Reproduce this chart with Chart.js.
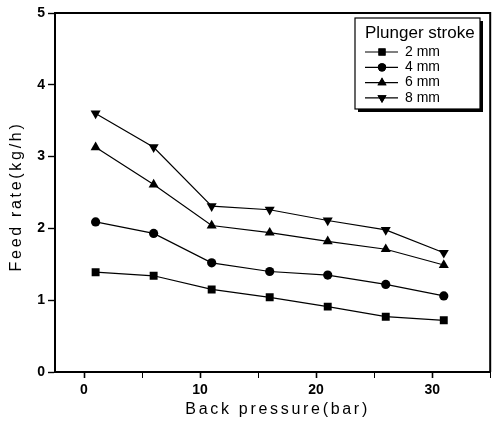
<!DOCTYPE html>
<html>
<head>
<meta charset="utf-8">
<script src="https://cdn.jsdelivr.net/npm/chart.js@4"></script>
<style>
  html, body { margin: 0; padding: 0; background: #fff; }
  .chart-box { width: 496px; height: 426px; }
</style>
</head>
<body>
<div class="chart-box"><canvas id="feedChart"></canvas></div>
<script>
// back pressure (bar) and feed rate (kg/h) for each plunger stroke
const BACK_PRESSURE = [1, 6, 11, 16, 21, 26, 31];
const STROKE_2MM = [1.39, 1.34, 1.15, 1.04, 0.91, 0.77, 0.72];
const STROKE_4MM = [2.09, 1.93, 1.52, 1.40, 1.35, 1.22, 1.06];
const STROKE_6MM = [3.13, 2.61, 2.04, 1.94, 1.82, 1.71, 1.49];
const STROKE_8MM = [3.60, 3.13, 2.31, 2.26, 2.11, 1.98, 1.66];
const SERIES_LABELS = ['2 mm', '4 mm', '6 mm', '8 mm'];
const X_TICKS = [0, 5, 10, 15, 20, 25, 30, 35];
const Y_TICKS = [0, 1, 2, 3, 4, 5];

const LEGEND_TITLE = 'Plunger stroke';
const X_TITLE = 'Back pressure(bar)';
const Y_TITLE = 'Feed rate(kg/h)';

const markers = [
    {pointStyle: 'rect', radius: 5.6, rotation: 0},
    {pointStyle: 'circle', radius: 4.6, rotation: 0},
    {pointStyle: 'triangle', radius: 5.8, rotation: 0},
    {pointStyle: 'triangle', radius: 5.8, rotation: 180}
];

const toPoints = values => values.map((y, i) => ({x: BACK_PRESSURE[i], y}));

const makeDataset = (label, values, marker) => ({
    label,
    data: toPoints(values),
    borderColor: '#000',
    backgroundColor: '#000',
    borderWidth: 1.2,
    pointStyle: marker.pointStyle,
    pointRadius: marker.radius,
    pointRotation: marker.rotation,
    pointBorderWidth: 0,
    pointHoverRadius: marker.radius,
    tension: 0
});

const seriesValues = [STROKE_2MM, STROKE_4MM, STROKE_6MM, STROKE_8MM];
const datasets = SERIES_LABELS.map((label, i) => makeDataset(label, seriesValues[i], markers[i]));

// frame on top/right, axis titles and the boxed legend
const framePlugin = {
    id: 'frame',
    afterDraw(chart) {
        const {ctx, chartArea: a} = chart;
        ctx.save();
        ctx.strokeStyle = '#000';
        ctx.lineWidth = 2;
        ctx.beginPath();
        ctx.moveTo(a.left, a.top);
        ctx.lineTo(a.right, a.top);
        ctx.lineTo(a.right, a.bottom);
        ctx.stroke();

        // axis titles
        ctx.fillStyle = '#000';
        ctx.font = '16px "Liberation Sans", Arial, sans-serif';
        ctx.letterSpacing = '2.7px';
        ctx.textAlign = 'center';
        ctx.textBaseline = 'middle';
        ctx.fillText(X_TITLE, (a.left + a.right) / 2 + 5, 410);
        ctx.translate(17, (a.top + a.bottom) / 2 + 4);
        ctx.rotate(-Math.PI / 2);
        ctx.fillText(Y_TITLE, 0, 0);
        ctx.restore();

        // legend box with drop shadow
        const box = {x: 355, y: 18, w: 125, h: 91};
        ctx.save();
        ctx.fillStyle = '#000';
        ctx.fillRect(box.x + 3, box.y + 3, box.w, box.h);
        ctx.fillStyle = '#fff';
        ctx.fillRect(box.x, box.y, box.w, box.h);
        ctx.strokeStyle = '#000';
        ctx.lineWidth = 1.2;
        ctx.strokeRect(box.x, box.y, box.w, box.h);

        ctx.fillStyle = '#000';
        ctx.textBaseline = 'middle';
        ctx.textAlign = 'left';
        ctx.font = '17px "Liberation Sans", Arial, sans-serif';
        ctx.fillText(LEGEND_TITLE, box.x + 10, box.y + 15);

        ctx.font = '14px "Liberation Sans", Arial, sans-serif';
        chart.data.datasets.forEach((ds, i) => {
            const y = box.y + 34 + i * 15.3;
            ctx.strokeStyle = '#000';
            ctx.lineWidth = 1.2;
            ctx.beginPath();
            ctx.moveTo(box.x + 10, y);
            ctx.lineTo(box.x + 43, y);
            ctx.stroke();
            Chart.helpers.drawPoint(ctx, {
                pointStyle: ds.pointStyle,
                rotation: ds.pointRotation,
                radius: ds.pointRadius * 0.9,
                borderWidth: 0
            }, box.x + 27, y);
            ctx.fill();
            ctx.fillText(ds.label, box.x + 50, y);
        });
        ctx.restore();
    }
};

const tickFont = {family: '"Liberation Sans", Arial, sans-serif', size: 14, weight: 'bold'};

new Chart(document.getElementById('feedChart'), {
    type: 'line',
    data: {datasets},
    options: {
        responsive: true,
        maintainAspectRatio: false,
        animation: false,
        layout: {padding: {top: 13, right: 5, left: 0, bottom: 0}},
        plugins: {legend: {display: false}, tooltip: {enabled: false}},
        scales: {
            x: {
                type: 'linear',
                min: -2.5,
                max: 35,
                afterBuildTicks: scale => {
                    scale.ticks = X_TICKS.map(value => ({value}));
                },
                afterFit: scale => {
                    scale.height = 54;
                },
                border: {display: true, color: '#000', width: 2},
                grid: {
                    drawOnChartArea: false,
                    drawTicks: true,
                    tickLength: 6,
                    tickColor: '#000',
                    tickWidth: ctx => (ctx.tick && ctx.tick.value % 10 === 0 ? 1.6 : 1)
                },
                ticks: {
                    color: '#000',
                    font: tickFont,
                    padding: 4,
                    maxRotation: 0,
                    autoSkip: false,
                    callback: value => (value % 10 === 0 && value <= 30 ? value : '')
                }
            },
            y: {
                type: 'linear',
                min: 0,
                max: 5,
                afterBuildTicks: scale => {
                    scale.ticks = Y_TICKS.map(value => ({value}));
                },
                afterFit: scale => {
                    scale.width = 55;
                },
                border: {display: true, color: '#000', width: 2},
                grid: {
                    drawOnChartArea: false,
                    drawTicks: true,
                    tickLength: 7,
                    tickColor: '#000',
                    tickWidth: 1.4
                },
                ticks: {
                    color: '#000',
                    font: tickFont,
                    padding: 3
                }
            }
        }
    },
    plugins: [framePlugin]
});
</script>
</body>
</html>
